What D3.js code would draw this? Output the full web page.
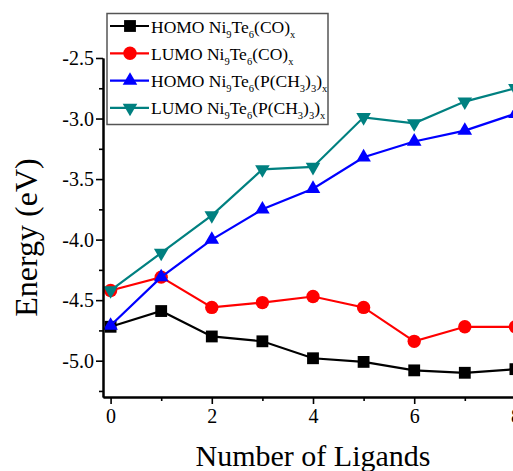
<!DOCTYPE html>
<html>
<head>
<meta charset="utf-8">
<script src="https://cdn.jsdelivr.net/npm/d3@7"></script>
<style>
  body { margin: 0; background: #fff; }
  svg { display: block; font-family: 'Liberation Serif', 'Times New Roman', serif; }
</style>
</head>
<body>
<svg></svg>
<script>
// ligand counts and energies (eV)
let ligands = [0, 1, 2, 3, 4, 5, 6, 7, 8]
let homoCO = [-4.72, -4.59, -4.80, -4.84, -4.98, -5.01, -5.08, -5.10, -5.07]
let lumoCO = [-4.42, -4.31, -4.56, -4.52, -4.47, -4.56, -4.84, -4.72, -4.72]
let homoP = [-4.71, -4.31, -4.00, -3.75, -3.58, -3.32, -3.19, -3.10, -2.96]
let lumoP = [-4.42, -4.11, -3.80, -3.42, -3.40, -2.99, -3.04, -2.86, -2.75]

let yMajor = [-5.0, -4.5, -4.0, -3.5, -3.0, -2.5]
let yMinor = [-5.25, -4.75, -4.25, -3.75, -3.25, -2.75]
let xMajor = [0, 2, 4, 6, 8]
let xMinor = [1, 3, 5, 7]

let width = 513
let height = 471
let plotLeft = 103, plotRight = 523, plotTop = 58, plotBottom = 397

let svg = d3.select('svg').attr('width', width).attr('height', height)

let xScale = d3.scaleLinear().domain([-0.15, 8.15]).range([plotLeft, plotRight])
let yScale = d3.scaleLinear().domain([-5.3, -2.5]).range([plotBottom, plotTop])

let series = [
  { values: homoCO, color: '#000000', symbol: d3.symbolSquare, size: 140, rot: 0,
    label: [['HOMO Ni', 0], ['9', 1], ['Te', 0], ['6', 1], ['(CO)', 0], ['x', 1]] },
  { values: lumoCO, color: '#ff0000', symbol: d3.symbolCircle, size: 140, rot: 0,
    label: [['LUMO Ni', 0], ['9', 1], ['Te', 0], ['6', 1], ['(CO)', 0], ['x', 1]] },
  { values: homoP, color: '#0000ff', symbol: d3.symbolTriangle, size: 92, rot: 0,
    label: [['HOMO Ni', 0], ['9', 1], ['Te', 0], ['6', 1], ['(P(CH', 0], ['3', 1], [')', 0], ['3', 1], [')', 0], ['x', 1]] },
  { values: lumoP, color: '#008080', symbol: d3.symbolTriangle, size: 92, rot: 180,
    label: [['LUMO Ni', 0], ['9', 1], ['Te', 0], ['6', 1], ['(P(CH', 0], ['3', 1], [')', 0], ['3', 1], [')', 0], ['x', 1]] }
]

// lines and markers
let line = d3.line().x((d, i) => xScale(ligands[i])).y(d => yScale(d))

series.forEach(s => {
  svg.append('path')
    .attr('d', line(s.values))
    .attr('fill', 'none')
    .attr('stroke', s.color)
    .attr('stroke-width', 2.2)

  svg.selectAll(null)
    .data(s.values)
    .enter()
    .append('path')
    .attr('d', d3.symbol().type(s.symbol).size(s.size))
    .attr('transform', (d, i) => 'translate(' + xScale(ligands[i]) + ',' + yScale(d) + ') rotate(' + s.rot + ')')
    .attr('fill', s.color)
})

// axes
let fmt = d => d.toFixed(1)

let yAxis = svg.append('g')
  .attr('transform', 'translate(' + plotLeft + ',0)')
  .call(d3.axisLeft(yScale).tickValues(yMajor).tickFormat(fmt).tickSize(7).tickSizeOuter(0))
svg.append('g')
  .attr('transform', 'translate(' + plotLeft + ',0)')
  .call(d3.axisLeft(yScale).tickValues(yMinor).tickFormat('').tickSize(4).tickSizeOuter(0))

let xAxis = svg.append('g')
  .attr('transform', 'translate(0,' + plotBottom + ')')
  .call(d3.axisBottom(xScale).tickValues(xMajor).tickFormat(d3.format('d')).tickSize(7).tickSizeOuter(0))
svg.append('g')
  .attr('transform', 'translate(0,' + plotBottom + ')')
  .call(d3.axisBottom(xScale).tickValues(xMinor).tickFormat('').tickSize(4).tickSizeOuter(0))

svg.selectAll('.domain').attr('stroke', '#000').attr('stroke-width', 2)
svg.selectAll('.tick line').attr('stroke', '#000').attr('stroke-width', 1.6)
svg.selectAll('.tick text').attr('fill', '#000').style('font-size', '20px')
  .style('font-family', "'Liberation Serif', 'Times New Roman', serif")
yAxis.selectAll('.tick text').attr('x', -9).attr('dy', '0.34em')
xAxis.selectAll('.tick text').attr('y', 12)

// axis titles
svg.append('text')
  .attr('transform', 'translate(37,' + ((plotTop + plotBottom) / 2 + 10) + ') rotate(-90)')
  .attr('text-anchor', 'middle')
  .style('font-size', '32px')
  .text('Energy (eV)')

svg.append('text')
  .attr('x', (plotLeft + plotRight) / 2)
  .attr('y', 466)
  .attr('text-anchor', 'middle')
  .style('font-size', '30px')
  .text('Number of Ligands')

// legend
let legend = svg.append('g')
legend.append('rect')
  .attr('x', 107).attr('y', 13.5)
  .attr('width', 221).attr('height', 111)
  .attr('fill', '#fff')
  .attr('stroke', '#555')
  .attr('stroke-width', 1.5)

series.forEach((s, i) => {
  let cy = 26 + i * 27.3
  legend.append('line')
    .attr('x1', 110).attr('x2', 149)
    .attr('y1', cy).attr('y2', cy)
    .attr('stroke', s.color).attr('stroke-width', 2.2)
  legend.append('path')
    .attr('d', d3.symbol().type(s.symbol).size(s.size))
    .attr('transform', 'translate(130,' + cy + ') rotate(' + s.rot + ')')
    .attr('fill', s.color)
  let t = legend.append('text')
    .attr('x', 151).attr('y', cy + 6.5)
    .style('font-size', '17.5px')
  // subscripts drop 5px, then return to the baseline
  s.label.forEach((part, j) => {
    let prev = j > 0 ? s.label[j - 1][1] : 0
    let ts = t.append('tspan').text(part[0])
      .attr('dy', (part[1] ? 5 : 0) - (prev ? 5 : 0))
    if (part[1]) ts.style('font-size', '10.5px')
  })
})
</script>
</body>
</html>
